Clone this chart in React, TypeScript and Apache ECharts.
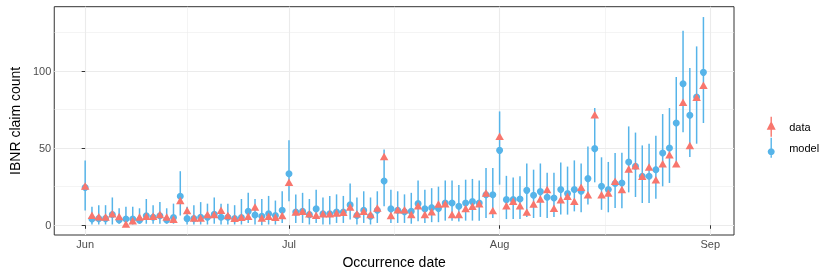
import React, { useEffect, useRef } from 'react';
import * as echarts from 'echarts';

// Day offsets from 1 June (index of each array = day offset)
const xTickDays = [0, 30, 61, 92];
const xTickLabels = ['Jun', 'Jul', 'Aug', 'Sep'];
const xMinorDays = [15, 45.5, 76.5];
const yTicks = [0, 50, 100];
const yMinor = [25, 75, 125];

const modelMean = [
  24.5, 4, 4.3, 4.3, 7, 3.4, 4.1, 4, 3.2, 6.2,
  5.2, 6.2, 3.4, 5, 18.8, 4.3, 4.3, 5.2, 5.2, 7.1,
  5.2, 5.2, 4.3, 5, 9, 6.7, 5.8, 7.5, 6.3, 9.7,
  33.4, 8.6, 9, 6.9, 10.6, 7.5, 7.5, 8.6, 8.6, 13.2,
  6.3, 9.7, 5.8, 9.7, 28.7, 10.6, 9.7, 8.8, 9, 14,
  10.6, 11.4, 10.8, 14.4, 14.4, 12.3, 14.4, 15.3, 14.4, 19.8,
  19.8, 48.5, 16.6, 16.6, 17, 22.6, 19.4, 21.8, 18.1, 17.7,
  23.1, 20.5, 23.1, 22, 30.2, 49.6, 25.2, 23.1, 27, 27.4,
  41, 38.2, 31.7, 31.7, 36, 46.8, 50, 66.2, 91.6, 71.2,
  83, 99,
];
const modelLower = [
  9.5, 0.5, 0.5, 0.5, 0.5, 1, 0.5, 0.5, 1, 1,
  1, 1, 1, 1, 6.3, 0.5, 0.5, 0.5, 0.5, 1,
  0.5, 0.5, 0.5, 0.5, 1.5, 0.5, 0, 0.5, 0.5, 1.5,
  15.5, 1.5, 1.5, 0.5, 1.5, 0.5, 0.5, 1.5, 1.5, 3.7,
  0.5, 1.5, 0.5, 1.5, 12.3, 1.5, 1.5, 1.5, 1, 2.6,
  1.5, 2, 2, 3, 3, 2.5, 3, 3, 3, 4.7,
  4.7, 26.3, 4, 4, 4, 5.4, 4.7, 5.4, 4.7, 5.4,
  6.9, 6.9, 9, 8.4, 13.4, 27.8, 10, 8.4, 11.2, 11,
  21.3, 18.3, 14.4, 14.4, 17.2, 25.2, 27.4, 39.2, 60.2, 44.2,
  52.8, 66.2,
];
const modelUpper = [
  42, 12, 13, 13, 18, 11, 12, 12, 11, 17,
  13, 15, 11, 14, 35, 12, 13, 15, 14, 18,
  14, 14, 13, 17, 21, 17, 17, 19, 16, 22,
  55, 20, 21, 17, 23, 18, 19, 20, 19, 27,
  18, 22, 18, 22, 49, 23, 22, 20, 21, 29,
  23, 24, 25, 29, 29, 26, 29.5, 30, 29, 37,
  37, 73.7, 32, 31, 31.7, 40, 36, 40, 34, 34,
  40.7, 38, 42, 40, 51, 75.9, 44, 41, 46.8, 47,
  64, 60, 51.7, 52.8, 58, 72, 75.9, 96, 125.9, 101.8,
  115.8, 134.8,
];
const observed = [
  25.5, 6.5, 5.5, 5.4, 7.5, 5.6, 0.8, 3, 5.4, 5.8,
  5.8, 6.9, 5.4, 3.9, 16, 9.5, 4.7, 4.7, 6.9, 6.9,
  9.7, 6.3, 4.5, 5.2, 5.8, 11.9, 4.7, 5.8, 5.2, 6.3,
  27.8, 8.6, 9, 7.5, 6.5, 7.5, 7.5, 8, 8.4, 11.9,
  7.5, 9, 6.9, 11.2, 44.6, 6.3, 10.1, 10.1, 6.9, 12.7,
  6.9, 8.8, 13.8, 14, 6.9, 6.9, 10.8, 12.3, 14, 20.9,
  9.5, 57.6, 12.7, 15.5, 12.7, 8.6, 13.8, 17, 23.1, 11,
  16.6, 18.8, 15.5, 24.6, 19.8, 71.6, 19.8, 20.9, 28.5, 23.1,
  36.4, 38.6, 31.7, 37.7, 29.5, 39.9, 45.7, 39.9, 79.6, 51.7,
  82.8, 90.6,
];

const RED = '#F8766D';
const BLUE = '#56B4E9';
const GRID = '#EBEBEB';
const FONT = 'Liberation Sans, Arial, sans-serif';

const dataIcon =
  'path://M4.3,0 L5.7,0 L5.7,5.5 L9.5,13 L5.7,13 L5.7,20 L4.3,20 L4.3,13 L0.5,13 L4.3,5.5 Z';
const modelIcon =
  'path://M4.3,0 L5.7,0 L5.7,20 L4.3,20 Z M5,10.5 A3.5,3.5 0 1 1 4.99,10.5 Z';

export default function App() {
  const ref = useRef<HTMLDivElement>(null);
  useEffect(() => {
    if (!ref.current) return;
    const chart = echarts.init(ref.current, undefined, { renderer: 'svg' });
    const idx = modelMean.map((_, i) => i);
    const gridLines = [
      ...xTickDays.map((d) => ({ xAxis: d, lineStyle: { color: GRID, width: 1.1, type: 'solid' } })),
      ...xMinorDays.map((d) => ({ xAxis: d, lineStyle: { color: GRID, width: 0.55, type: 'solid' } })),
      ...yTicks.map((v) => ({ yAxis: v, lineStyle: { color: GRID, width: 1.1, type: 'solid' } })),
      ...yMinor.map((v) => ({ yAxis: v, lineStyle: { color: GRID, width: 0.55, type: 'solid' } })),
    ];
    chart.setOption({
      animation: false,
      textStyle: { fontFamily: FONT },
      grid: {
        left: 49.3,
        right: 830 - 734,
        top: 6.7,
        bottom: 277 - 235,
        show: true,
        borderColor: '#333333',
        borderWidth: 1,
        backgroundColor: 'transparent',
        containLabel: false,
      },
      legend: {
        orient: 'vertical',
        left: 761.7,
        top: 111.7,
        itemWidth: 10,
        itemHeight: 20,
        itemGap: 1,
        data: [
          { name: 'data', icon: dataIcon },
          { name: 'model', icon: modelIcon },
        ],
        textStyle: { fontFamily: FONT, fontSize: 11, color: '#000000', padding: [0, 0, 0, 8] },
      },
      xAxis: {
        type: 'value',
        min: -4.55,
        max: 95.5,
        name: 'Occurrence date',
        nameLocation: 'middle',
        nameGap: 20,
        nameTextStyle: { fontFamily: FONT, fontSize: 14, color: '#000000', verticalAlign: 'top' },
        axisLine: { show: false },
        splitLine: { show: false },
        axisTick: { show: true, customValues: xTickDays, length: 3.5, lineStyle: { color: '#333333', width: 1 } },
        axisLabel: {
          customValues: xTickDays,
          margin: 3,
          fontFamily: FONT,
          fontSize: 11,
          color: '#4D4D4D',
          formatter: (v: number) => {
            const k = xTickDays.indexOf(Math.round(v));
            return k >= 0 ? xTickLabels[k] : '';
          },
        },
      },
      yAxis: {
        type: 'value',
        min: -6.3,
        max: 141.5,
        name: 'IBNR claim count',
        nameLocation: 'middle',
        nameGap: 30,
        nameRotate: 90,
        nameTextStyle: { fontFamily: FONT, fontSize: 14, color: '#000000' },
        axisLine: { show: false },
        splitLine: { show: false },
        axisTick: { show: true, customValues: yTicks, length: 3.5, lineStyle: { color: '#333333', width: 1 } },
        axisLabel: {
          customValues: yTicks,
          margin: 3,
          fontFamily: FONT,
          fontSize: 11,
          color: '#4D4D4D',
        },
      },
      series: [
        {
          name: 'grid',
          type: 'line',
          data: [],
          silent: true,
          z: 0,
          zlevel: 0,
          markLine: {
            silent: true,
            z: 0,
            symbol: ['none', 'none'],
            label: { show: false },
            emphasis: { disabled: true },
            animation: false,
            data: gridLines,
          },
        },
        {
          name: 'model interval',
          type: 'custom',
          z: 6,
          data: idx.map((i) => [i, modelLower[i], modelUpper[i]]),
          encode: { x: 0, y: [1, 2] },
          renderItem: (params: any, api: any) => {
            const x = api.value(0);
            const p1 = api.coord([x, api.value(1)]);
            const p2 = api.coord([x, api.value(2)]);
            return {
              type: 'line',
              shape: { x1: p1[0], y1: p1[1], x2: p2[0], y2: p2[1] },
              style: { stroke: BLUE, lineWidth: 1.5 },
            };
          },
        },
        {
          name: 'model',
          type: 'scatter',
          z: 7,
          symbol: 'circle',
          symbolSize: 7,
          itemStyle: { color: BLUE, opacity: 1 },
          data: idx.map((i) => [i, modelMean[i]]),
        },
        {
          name: 'data',
          type: 'scatter',
          z: 8,
          symbol: 'triangle',
          symbolSize: [8.5, 7.5],
          itemStyle: { color: RED, opacity: 1 },
          data: idx.map((i) => [i, observed[i]]),
        },
      ],
    });
    return () => chart.dispose();
  }, []);
  return <div ref={ref} style={{ position: 'fixed', left: 0, top: 0, width: 830, height: 277 }} />;
}
